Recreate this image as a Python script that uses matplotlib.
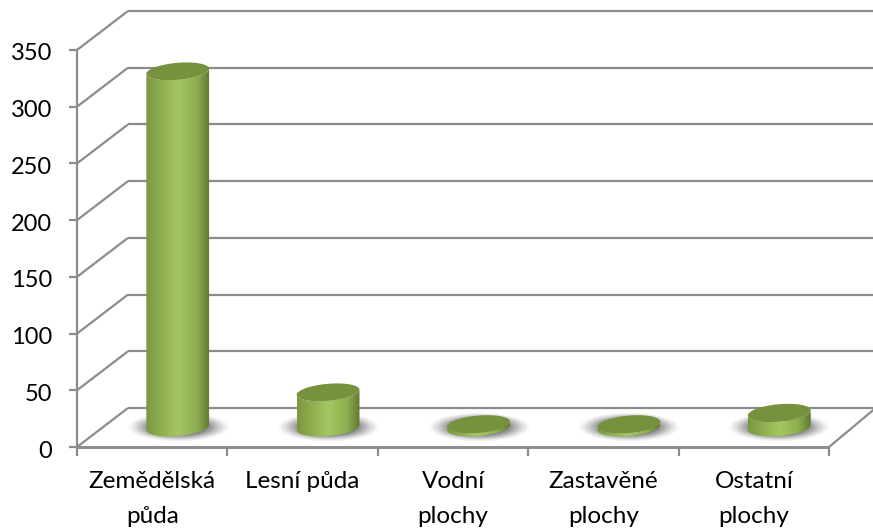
import numpy as np
import matplotlib
matplotlib.use('Agg')
import matplotlib.pyplot as plt
from matplotlib.patches import Polygon
from matplotlib.colors import LinearSegmentedColormap

categories = ['Zemědělská\npůda', 'Lesní půda', 'Vodní\nplochy', 'Zastavěné\nplochy', 'Ostatní\nplochy']
values = [314, 31, 3, 3, 13]
y_ticks = [0, 50, 100, 150, 200, 250, 300, 350]

W, H = 873, 528
GRID = '#8c8c8c'
plt.rcParams['font.family'] = ['Lato', 'DejaVu Sans']

fig = plt.figure(figsize=(W / 100, H / 100), dpi=100)
# front plane of the chart: x 77..829 px, y 447..50 px
ax = fig.add_axes([77 / W, (H - 447) / H, (829 - 77) / W, (447 - 50) / H])
ax.set_xlim(-0.5, 4.5)
ax.set_ylim(0, 350)
ax.axis('off')

# px to data units
ux = 5 / (829 - 77)
uy = 350 / (447 - 50)
dep_x = 51 * ux
dep_y = 39 * uy
LW = 1.6

# walls and floor
for v in y_ticks:
    ax.plot([-0.5, -0.5 + dep_x], [v, v + dep_y], color=GRID, lw=LW, clip_on=False, zorder=1, solid_capstyle='butt')
    ax.plot([-0.5 + dep_x, 4.5 + 2 * dep_x], [v + dep_y, v + dep_y], color=GRID, lw=LW, clip_on=False, zorder=1, solid_capstyle='butt')
    ax.plot([-0.5 - 8 * ux, -0.5], [v, v], color=GRID, lw=LW, clip_on=False, zorder=1, solid_capstyle='butt')
    ax.text(-0.5 - 25 * ux, v - 4 * uy, str(v), ha='right', va='center', fontsize=17, color='black')
ax.plot([-0.5, -0.5], [0, 350], color=GRID, lw=LW, clip_on=False, zorder=1)
ax.plot([-0.5, 4.5], [0, 0], color=GRID, lw=LW + 0.5, clip_on=False, zorder=1, solid_capstyle='butt')
ax.plot([4.5, 4.5 + dep_x * 0.87], [0, dep_y * 0.95], color=GRID, lw=LW, clip_on=False, zorder=1)
for i in range(6):
    ax.plot([i - 0.5, i - 0.5], [0, -9 * uy], color=GRID, lw=LW, clip_on=False, zorder=1, solid_capstyle='butt')

for i, c in enumerate(categories):
    ax.text(i, -24 * uy, c, ha='center', va='top', fontsize=17.5, color='black', linespacing=1.85)

cmap = LinearSegmentedColormap.from_list('cyl', [
    (0.0, '#7a9842'), (0.15, '#87a64a'), (0.5, '#a5c762'), (0.8, '#8eae50'), (1.0, '#5f7931')])

RX = 31.5  # cylinder half width, px
RY = 8.5   # half height of the ellipse, px
TILT = np.radians(5)


def ell(cx, cy, t):
    # point on the tilted ellipse, in data units
    ex = RX * np.cos(t)
    ey = RY * np.sin(t)
    px = ex * np.cos(TILT) - ey * np.sin(TILT)
    py = ex * np.sin(TILT) + ey * np.cos(TILT)
    return cx + px * ux, cy + py * uy


for i, val in enumerate(values):
    cx = i + dep_x / 2
    cy0 = dep_y / 2
    cy1 = cy0 + val

    # soft shadow on the floor
    sx = np.linspace(-1, 1, 200)
    sy = np.linspace(-1, 1, 80)
    gx, gy = np.meshgrid(sx, sy)
    r2 = gx ** 2 + gy ** 2
    a = np.clip(1.25 * np.clip(1 - r2, 0, 1) ** 1.6, 0, 0.85)
    rgba = np.zeros(a.shape + (4,))
    rgba[..., :3] = 0.33
    rgba[..., 3] = a
    ax.imshow(rgba, extent=[cx - 52 * ux, cx + 52 * ux, cy0 - 15 * uy, cy0 + 15 * uy],
              aspect='auto', origin='lower', zorder=2, clip_on=False, interpolation='bilinear')

    # body: side from top ellipse down to the base
    t = np.linspace(np.pi, 2 * np.pi, 60)
    bx, by = ell(cx, cy0, t)
    tx, ty = ell(cx, cy1, t[::-1])
    outline = Polygon(np.column_stack([np.r_[bx, tx], np.r_[by, ty]]), closed=True,
                      transform=ax.transData, fc='none', ec='none')
    ax.add_patch(outline)
    grad = np.linspace(0, 1, 128).reshape(1, -1)
    im = ax.imshow(grad, extent=[cx - RX * ux, cx + RX * ux, cy0 - 12 * uy, cy1 + 12 * uy],
                   aspect='auto', cmap=cmap, zorder=3, clip_on=True)
    im.set_clip_path(outline)

    # top ellipse
    t = np.linspace(0, 2 * np.pi, 120)
    ex, ey = ell(cx, cy1, t)
    ax.add_patch(Polygon(np.column_stack([ex, ey]), closed=True, fc='#76923c', ec='none', zorder=4, clip_on=False))

ax.set_xlim(-0.5, 4.5)
ax.set_ylim(0, 350)

fig.savefig('out.png', dpi=100, facecolor='white')
